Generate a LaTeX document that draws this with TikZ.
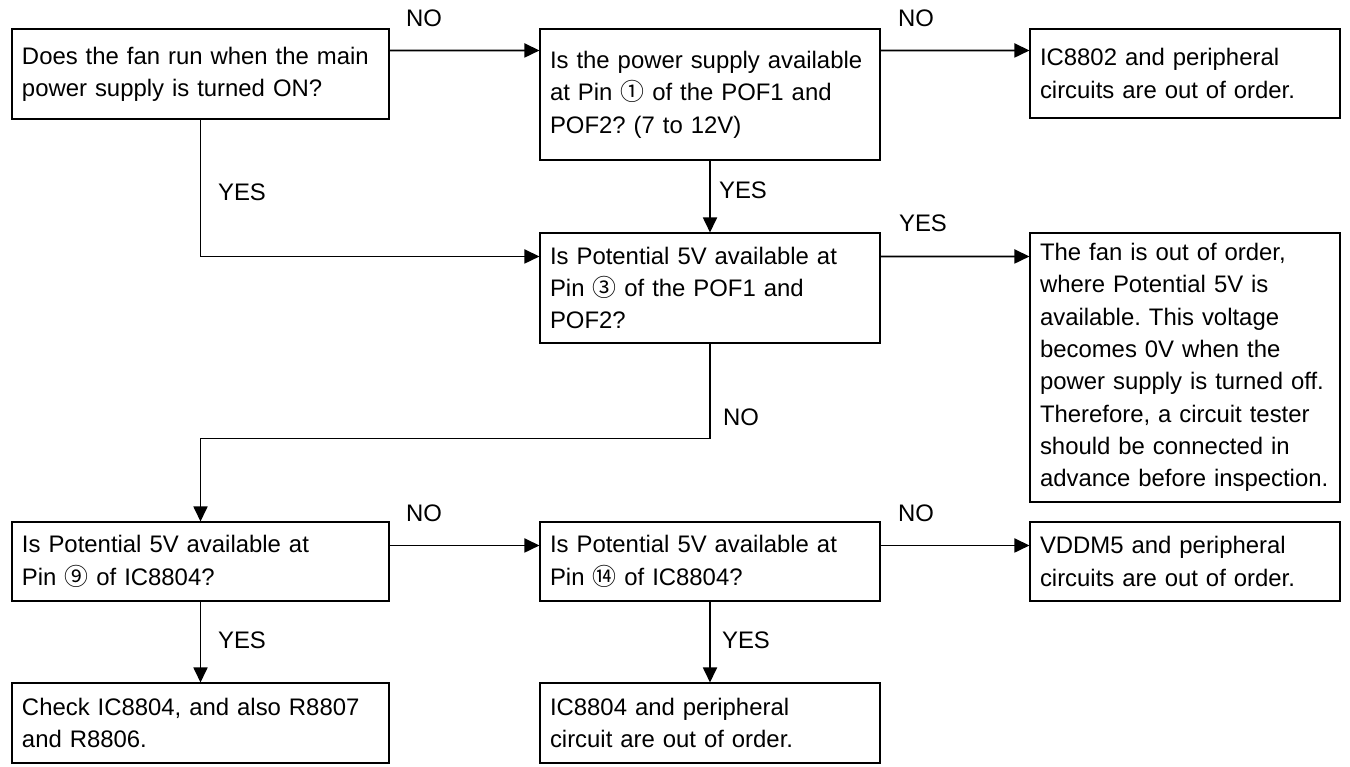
\documentclass[tikz,border=0pt]{standalone}
\usepackage{fontspec}
\setmainfont{Liberation Sans}
\newfontfamily\cjk{Noto Sans CJK JP}
\usepackage{tikz}
\usetikzlibrary{arrows.meta, positioning}
\newcommand{\circnum}[1]{{\cjk #1}}
\frenchspacing

\begin{document}
\begin{tikzpicture}[
    box/.style={rectangle, draw, line width=0.6pt, align=left, inner xsep=0.2cm, inner ysep=0pt},
    lbl/.style={inner sep=0pt},
    arr/.style={-{Triangle[length=0.3cm, width=0.28cm]}, line width=1pt},
    font=\fontsize{13.6}{18.4}\selectfont
]
\useasboundingbox (0,0) rectangle (27,-15.32);

% Top row
\node[box, text width=7.14cm, minimum height=1.8cm] (fan) at (4.01,-1.48) {Does the fan run when the main\\power supply is turned ON?};
\node[box, text width=6.4cm, minimum height=2.62cm] (pofsup) at (14.2,-1.89) {Is the power supply available\\at Pin \circnum{①} of the POF1 and\\POF2? (7 to 12V)};
\node[box, text width=5.8cm, minimum height=1.78cm] (icfail) at (23.7,-1.47) {IC8802 and peripheral\\circuits are out of order.};

% Middle row
\node[box, text width=6.4cm, minimum height=2.2cm] (pofpot) at (14.2,-5.76) {Is Potential 5V available at\\Pin \circnum{③} of the POF1 and\\POF2?};
\node[box, text width=5.8cm, minimum height=5.38cm] (fanfail) at (23.7,-7.35) {The fan is out of order,\\where Potential 5V is\\available. This voltage\\becomes 0V when the\\power supply is turned off.\\Therefore, a circuit tester\\should be connected in\\advance before inspection.};

% Lower rows
\node[box, text width=7.14cm, minimum height=1.58cm] (pinnine) at (4.01,-11.23) {Is Potential 5V available at\\Pin \circnum{⑨} of IC8804?};
\node[box, text width=6.4cm, minimum height=1.58cm] (pinfourteen) at (14.2,-11.23) {Is Potential 5V available at\\Pin \circnum{⑭} of IC8804?};
\node[box, text width=5.8cm, minimum height=1.58cm] (vddfail) at (23.7,-11.23) {VDDM5 and peripheral\\circuits are out of order.};
\node[box, text width=7.14cm, minimum height=1.6cm] (check) at (4.01,-14.46) {Check IC8804, and also R8807\\and R8806.};
\node[box, text width=6.4cm, minimum height=1.6cm] (icperi) at (14.2,-14.46) {IC8804 and peripheral\\circuit are out of order.};

% Connectors
\draw[arr] ([yshift=-0.44cm]fan.north east) -- ([yshift=-0.44cm]pofsup.north west);
\draw[arr] ([yshift=-0.44cm]pofsup.north east) -- ([yshift=-0.44cm]icfail.north west);
\draw[arr] (pofsup.south) -- (pofpot.north);
\draw[arr] (fan.south) |- ([yshift=-0.48cm]pofpot.north west);
\draw[arr] ([yshift=-0.48cm]pofpot.north east) -- ([yshift=-0.48cm]fanfail.north west);
\draw[arr] (pofpot.south) -- ++(0,-1.9) -| (pinnine.north);
\draw[arr] ([yshift=-0.48cm]pinnine.north east) -- ([yshift=-0.48cm]pinfourteen.north west);
\draw[arr] ([yshift=-0.48cm]pinfourteen.north east) -- ([yshift=-0.48cm]vddfail.north west);
\draw[arr] (pinnine.south) -- (check.north);
\draw[arr] (pinfourteen.south) -- (icperi.north);

% Labels
\node[lbl] (nofan) at (8.48,-0.36) {NO};
\node[lbl] (nosup) at (18.32,-0.36) {NO};
\node[lbl] (yesfan) at (4.84,-3.84) {YES};
\node[lbl] (yessup) at (14.86,-3.8) {YES};
\node[lbl] (yespot) at (18.46,-4.46) {YES};
\node[lbl] (nopot) at (14.82,-8.34) {NO};
\node[lbl] (nonine) at (8.48,-10.26) {NO};
\node[lbl] (nofourteen) at (18.32,-10.26) {NO};
\node[lbl] (yesnine) at (4.84,-12.8) {YES};
\node[lbl] (yesfourteen) at (14.92,-12.8) {YES};
\end{tikzpicture}
\end{document}
